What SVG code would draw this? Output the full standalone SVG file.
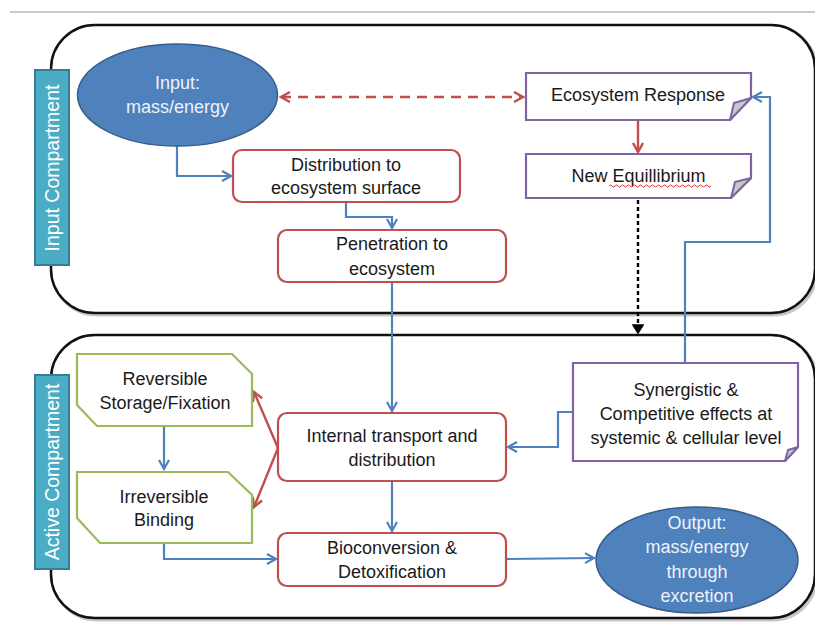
<svg xmlns="http://www.w3.org/2000/svg" width="815" height="623" viewBox="0 0 815 623">
  <style>
    text { font-family: "Liberation Sans", Arial, sans-serif; font-size: 18px; fill: #1a1a1a; text-anchor: middle; }
    .light { fill: #eef2f8; }
    .label { fill: #ffffff; font-size: 19.5px; }
    .compartment { fill: #ffffff; stroke: #111111; stroke-width: 2.5; }
    .shadow { fill: none; stroke: #c8c8c8; stroke-width: 3; }
    .tab { fill: #4BACC6; stroke: #357D91; stroke-width: 2; }
    .oval { fill: #4F81BD; stroke: #385D8A; stroke-width: 1.5; }
    .step { fill: #ffffff; stroke: #C0504D; stroke-width: 2.2; }
    .note { fill: #ffffff; stroke: #8064A2; stroke-width: 2.2; }
    .fold { fill: #c8c8cc; stroke: #8064A2; stroke-width: 2; stroke-linejoin: round; }
    .store { fill: #ffffff; stroke: #9BBB59; stroke-width: 2.2; }
    .blue { fill: none; stroke: #4F81BD; stroke-width: 2.2; }
    .red { fill: none; stroke: #C0504D; stroke-width: 2.4; }
    .blk { fill: none; stroke: #000000; stroke-width: 2.4; stroke-dasharray: 4 3; }
  </style>
  <defs>
    <marker id="arrBlue" markerUnits="userSpaceOnUse" markerWidth="14" markerHeight="14" refX="10" refY="6" orient="auto">
      <path d="M1,1 L10,6 L1,11" fill="none" stroke="#4F81BD" stroke-width="2.2"/>
    </marker>
    <marker id="arrRed" markerUnits="userSpaceOnUse" markerWidth="14" markerHeight="14" refX="10" refY="6" orient="auto-start-reverse">
      <path d="M1,1 L10,6 L1,11" fill="none" stroke="#C0504D" stroke-width="2.5"/>
    </marker>
    <marker id="arrBlk" markerUnits="userSpaceOnUse" markerWidth="14" markerHeight="14" refX="9" refY="6" orient="auto">
      <path d="M1,1 L9,6 L1,11 Z" fill="#000000" stroke="#000000" stroke-width="1.5"/>
    </marker>
  </defs>

  <!-- page rule -->
  <line x1="10" y1="12" x2="815" y2="12" stroke="#b4b8c4" stroke-width="1.5"/>

  <!-- compartments -->
  <g id="input-compartment">
    <rect x="53" y="27" width="764" height="288" rx="44" class="shadow"/>
    <rect x="51" y="25" width="764" height="288" rx="44" class="compartment"/>
  </g>
  <g id="active-compartment">
    <rect x="53" y="337" width="764" height="283" rx="44" class="shadow"/>
    <rect x="51" y="335" width="764" height="283" rx="44" class="compartment"/>
  </g>

  <g id="input-label">
    <rect x="35" y="70" width="34" height="195" class="tab"/>
    <text class="label" transform="translate(59,168) rotate(-90)">Input Compartment</text>
  </g>
  <g id="active-label">
    <rect x="35" y="375" width="34" height="194" class="tab"/>
    <text class="label" transform="translate(59,472) rotate(-90)">Active Compartment</text>
  </g>

  <!-- connectors -->
  <g id="connectors">
    <path d="M177,146 V176 H231" class="blue" marker-end="url(#arrBlue)"/>
    <path d="M346,202 V217 H392 V228" class="blue" marker-end="url(#arrBlue)"/>
    <path d="M392,282 V411" class="blue" marker-end="url(#arrBlue)"/>
    <path d="M392,481 V531" class="blue" marker-end="url(#arrBlue)"/>
    <path d="M506,559 L594,558" class="blue" marker-end="url(#arrBlue)"/>
    <path d="M164,426 V469" class="blue" marker-end="url(#arrBlue)"/>
    <path d="M164,543 V559 H276" class="blue" marker-end="url(#arrBlue)"/>
    <path d="M573,412 H558 V447 H508" class="blue" marker-end="url(#arrBlue)"/>
    <path d="M685,362 V242 H770 V97 H753" class="blue" marker-end="url(#arrBlue)"/>
    <path d="M638,120 V152" class="red" marker-end="url(#arrRed)"/>
    <path d="M281,97 H523" class="red" stroke-dasharray="10 7" marker-start="url(#arrRed)" marker-end="url(#arrRed)"/>
    <path d="M278,448 L254,392" class="red" marker-end="url(#arrRed)"/>
    <path d="M278,448 L254,507" class="red" marker-end="url(#arrRed)"/>
    <path d="M638,200 V333" class="blk" marker-end="url(#arrBlk)"/>
  </g>

  <!-- nodes -->
  <g id="input">
    <ellipse cx="177.5" cy="95" rx="100" ry="51" class="oval"/>
    <text x="177.5" y="89" class="light">Input:</text>
    <text x="177.5" y="113" class="light">mass/energy</text>
  </g>

  <g id="distribution">
    <rect x="233" y="150" width="227" height="52" rx="9" class="step"/>
    <text x="346" y="171">Distribution to</text>
    <text x="346" y="194">ecosystem surface</text>
  </g>

  <g id="penetration">
    <rect x="278" y="230" width="228" height="52" rx="9" class="step"/>
    <text x="392" y="250">Penetration to</text>
    <text x="392" y="275">ecosystem</text>
  </g>

  <g id="ecosystem-response">
    <path d="M526,73 H751 V98 L730,120 H526 Z" class="note"/>
    <path d="M751,98 L730,120 L734,103 Z" class="fold"/>
    <text x="638" y="101">Ecosystem Response</text>
  </g>

  <g id="new-equilibrium">
    <path d="M526,154 H751 V178 L731,198 H526 Z" class="note"/>
    <path d="M751,178 L731,198 L735,182 Z" class="fold"/>
    <text x="638.5" y="182">New Equillibrium</text>
    <!-- spell-check squiggle -->
    <path d="M609,186 q1.5,-2 3,0 t3,0 t3,0 t3,0 t3,0 t3,0 t3,0 t3,0 t3,0 t3,0 t3,0 t3,0 t3,0 t3,0 t3,0 t3,0 t3,0 t3,0 t3,0 t3,0 t3,0 t3,0 t3,0 t3,0 t3,0 t3,0 t3,0 t3,0 t3,0 t3,0 t3,0 t3,0 t3,0 t3,0" fill="none" stroke="#e03030" stroke-width="1"/>
  </g>

  <g id="reversible-storage">
    <path d="M77,354 H232 L252,374 V426 H97 L77,405 Z" class="store"/>
    <text x="165" y="385">Reversible</text>
    <text x="165" y="409">Storage/Fixation</text>
  </g>

  <g id="irreversible-binding">
    <path d="M77,472 H228 L252,495 V543 H100 L77,518 Z" class="store"/>
    <text x="164" y="503">Irreversible</text>
    <text x="164" y="526">Binding</text>
  </g>

  <g id="internal-transport">
    <rect x="278" y="413" width="228" height="68" rx="9" class="step"/>
    <text x="392" y="442">Internal transport and</text>
    <text x="392" y="466">distribution</text>
  </g>

  <g id="bioconversion">
    <rect x="278" y="533" width="228" height="53" rx="9" class="step"/>
    <text x="392" y="554">Bioconversion &amp;</text>
    <text x="392" y="578">Detoxification</text>
  </g>

  <g id="synergistic-effects">
    <path d="M573,363 H798 V447 L785,461 H573 Z" class="note"/>
    <path d="M798,447 L785,461 L788,450 Z" class="fold"/>
    <text x="686" y="396">Synergistic &amp;</text>
    <text x="686" y="420">Competitive effects at</text>
    <text x="686" y="444">systemic &amp; cellular level</text>
  </g>

  <g id="output">
    <ellipse cx="697" cy="560" rx="101" ry="53" class="oval"/>
    <text x="697" y="529" class="light">Output:</text>
    <text x="697" y="553" class="light">mass/energy</text>
    <text x="697" y="578" class="light">through</text>
    <text x="697" y="602" class="light">excretion</text>
  </g>
</svg>
